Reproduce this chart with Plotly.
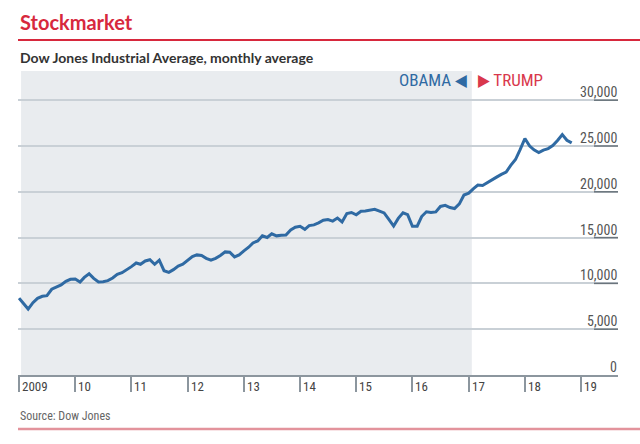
import pandas as pd
import plotly.graph_objects as go

# ---- data: Dow Jones Industrial Average, monthly average (Jan 2009 - Nov 2018)
dow_2009 = [8390, 7750, 7200, 7900, 8370, 8590, 8660, 9360, 9580, 9830, 10230, 10450]
dow_2010 = [10480, 10150, 10660, 11060, 10550, 10150, 10190, 10300, 10590, 10990, 11170, 11470]
dow_2011 = [11830, 12230, 12090, 12450, 12590, 12090, 12530, 11390, 11210, 11500, 11900, 12090]
dow_2012 = [12560, 12930, 13110, 13040, 12740, 12530, 12740, 13040, 13440, 13400, 12890, 13110]
dow_2013 = [13550, 13950, 14420, 14640, 15190, 15010, 15410, 15190, 15260, 15290, 15840, 16130]
dow_2014 = [16240, 15910, 16310, 16390, 16610, 16900, 16970, 16800, 17130, 16710, 17630, 17740]
dow_2015 = [17490, 17880, 17900, 17960, 18080, 17900, 17700, 17000, 16260, 17100, 17700, 17500]
dow_2016 = [16240, 16250, 17300, 17820, 17730, 17800, 18400, 18520, 18280, 18170, 18680, 19650]
dow_2017 = [19850, 20350, 20740, 20680, 21000, 21350, 21600, 21900, 22150, 22880, 23520, 24600]
dow_2018 = [25820, 25000, 24580, 24290, 24550, 24720, 25050, 25600, 26250, 25630, 25340]

dow = (dow_2009 + dow_2010 + dow_2011 + dow_2012 + dow_2013 + dow_2014
       + dow_2015 + dow_2016 + dow_2017 + dow_2018)
months = pd.date_range("2009-01-01", periods=len(dow), freq="MS")

year_ticks = [f"{y}-01-01" for y in range(2009, 2020)]
year_labels = ["2009", "10", "11", "12", "13", "14", "15", "16", "17", "18", "19"]
y_ticks = [0, 5000, 10000, 15000, 20000, 25000, 30000]
y_labels = ["0", "5,000", "10,000", "15,000", "20,000", "25,000", "30,000"]

obama_end = "2017-01-21"

# ---- styling
BLUE = "#2f6aa3"
RED = "#d7283d"
NARROW = "Roboto Condensed, Liberation Sans Narrow, DejaVu Sans Condensed, Roboto, sans-serif"
HEAD = "Lato, Open Sans, sans-serif"

M_T, M_B, M_L, M_R = 71, 69, 18, 22
PLOT_H = 444 - M_T - M_B
PLOT_W = 640 - M_L - M_R


def py(pix):
    """pixel row -> paper y"""
    return (444 - M_B - pix) / PLOT_H


def px(pix):
    """pixel column -> paper x"""
    return (pix - M_L) / PLOT_W


fig = go.Figure()
fig.add_trace(go.Scatter(
    x=months, y=dow, mode="lines",
    line=dict(color=BLUE, width=3),
    hoverinfo="skip", showlegend=False,
))

fig.update_layout(
    width=640, height=444,
    margin=dict(l=M_L, r=M_R, t=M_T, b=M_B),
    paper_bgcolor="white", plot_bgcolor="white",
    showlegend=False,
    xaxis=dict(
        type="date", range=["2008-12-25", "2019-08-29"],
        tickvals=year_ticks, ticktext=year_labels,
        ticks="outside", ticklen=15, tickwidth=1.5, tickcolor="#8c969e",
        showticklabels=False,
        showline=True, linecolor="#8c969e", linewidth=2,
        showgrid=False, zeroline=False,
    ),
    yaxis=dict(
        range=[0, 33188], side="right",
        tickvals=y_ticks, showticklabels=False, ticks="",
        showgrid=True, gridcolor="#c9d0d6", gridwidth=1.5,
        zeroline=False, showline=False,
    ),
)

fig.add_shape(type="rect", xref="x", yref="paper",
              x0="2009-01-14", x1=obama_end, y0=0, y1=1,
              fillcolor="#e9ecef", line=dict(width=0), layer="below")
fig.add_shape(type="line", xref="paper", yref="paper",
              x0=0, x1=px(640), y0=py(40), y1=py(40),
              line=dict(color=RED, width=2))
fig.add_shape(type="line", xref="paper", yref="paper",
              x0=0, x1=px(640), y0=py(429), y1=py(429),
              line=dict(color="#e3939c", width=2.5))

# y-axis labels sitting on their gridlines, with a darker underline
for v, lab in zip(y_ticks, y_labels):
    if v > 0:
        fig.add_shape(type="line", xref="paper", yref="y",
                      x0=px(594), x1=1, y0=v, y1=v,
                      line=dict(color="#6a747c", width=1.5))
    fig.add_annotation(text=lab, xref="paper", yref="y", x=1, y=v,
                       xanchor="right", yanchor="middle", yshift=8, xshift=1,
                       showarrow=False,
                       font=dict(family=NARROW, size=14, color="#555"))

# year labels to the right of the tick marks
for d, lab in zip(year_ticks, year_labels):
    fig.add_annotation(text=lab, xref="x", yref="paper", x=d, y=0,
                       xanchor="left", yanchor="middle", xshift=1, yshift=-11,
                       showarrow=False,
                       font=dict(family=NARROW, size=13, color="#444"))

fig.add_annotation(text="Stockmarket", xref="paper", yref="paper",
                   x=0, y=py(22), xanchor="left", yanchor="middle", showarrow=False,
                   font=dict(family=HEAD, size=20, color=RED, weight="bold"))
fig.add_annotation(text="Dow Jones Industrial Average, monthly average",
                   xref="paper", yref="paper",
                   x=0, y=py(57), xanchor="left", yanchor="middle", showarrow=False,
                   font=dict(family=HEAD, size=14, color="#333", weight="bold"))
fig.add_annotation(text="OBAMA ◀", xref="x", yref="paper",
                   x=obama_end, y=py(80), xanchor="right", yanchor="middle",
                   xshift=-3, showarrow=False,
                   font=dict(family=NARROW, size=17, color=BLUE))
fig.add_annotation(text="▶ TRUMP", xref="x", yref="paper",
                   x=obama_end, y=py(80), xanchor="left", yanchor="middle",
                   xshift=4, showarrow=False,
                   font=dict(family=NARROW, size=17, color="#d9384c"))
fig.add_annotation(text="Source: Dow Jones", xref="paper", yref="paper",
                   x=0, y=py(416), xanchor="left", yanchor="middle", showarrow=False,
                   font=dict(family=NARROW, size=12, color="#666"))

fig.write_html("out.html")
